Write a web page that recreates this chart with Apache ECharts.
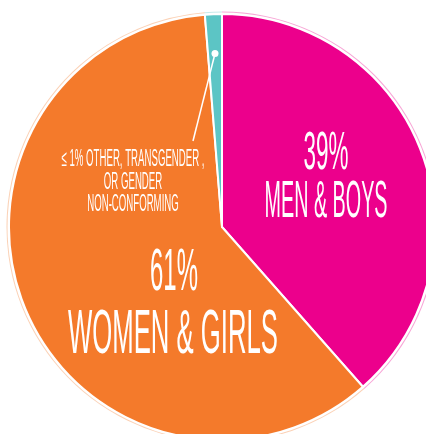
<!DOCTYPE html>
<html>
<head>
<meta charset="utf-8">
<script src="https://cdn.jsdelivr.net/npm/echarts@6/dist/echarts.min.js"></script>
<style>
  html, body { margin: 0; padding: 0; background: #fff; }
  #chart { width: 426px; height: 434px; }
</style>
</head>
<body>
<div id="chart"></div>
<script>
const categories = ['MEN & BOYS', 'WOMEN & GIRLS', 'OTHER, TRANSGENDER, OR GENDER NON-CONFORMING']
const values = [39, 61, 1.3]
const percentLabels = ['39%', '61%', '≤ 1%']
const sliceColors = ['#EC008C', '#F47A2B', '#5CC5C5']
const smallLabelLines = ['≤ 1% OTHER, TRANSGENDER ,', 'OR GENDER', 'NON-CONFORMING']

const chart = echarts.init(document.getElementById('chart'))

const CX = 222, CY = 227, R = 213
const FONT = '"Liberation Sans", Arial, sans-serif'

// squeeze regular text into the condensed look of the original
const measureCtx = document.createElement('canvas').getContext('2d')
function condensed(text, size, x, y, targetWidth) {
  const font = `${size}px ${FONT}`
  measureCtx.font = font
  const w = measureCtx.measureText(text).width
  return {
    type: 'text', x, y, z: 100,
    scaleX: targetWidth / w,
    silent: true,
    style: {
      text, font, fill: '#fff',
      textAlign: 'center', align: 'center',
      textVerticalAlign: 'middle', verticalAlign: 'middle'
    }
  }
}

// dot sits in the middle of the small slice
const total = values.reduce((a, b) => a + b, 0)
const midAngle = 2 * Math.PI * (1 - values[2] / (2 * total))
const dotX = CX + R * 0.815 * Math.sin(midAngle)
const dotY = CY - R * 0.815 * Math.cos(midAngle)

measureCtx.font = `23px ${FONT}`
const smallScale = 143 / measureCtx.measureText(smallLabelLines[0]).width

const graphic = [
  condensed(percentLabels[0], 53, 326, 154, 45),
  condensed(categories[0], 52, 326, 203, 123),
  condensed(percentLabels[1], 60, 174, 273, 48),
  condensed(categories[1], 63, 173, 336, 210),
  {
    type: 'polyline', silent: true, z: 100,
    shape: { points: [[dotX, dotY], [193, 141]] },
    style: { stroke: '#fff', lineWidth: 1.5, fill: null }
  },
  { type: 'circle', silent: true, z: 100, shape: { cx: dotX, cy: dotY, r: 3.5 }, style: { fill: '#fff' } }
]
smallLabelLines.forEach((t, i) => {
  const el = condensed(t, 23, 133, 160 + i * 22.5, 1)
  el.scaleX = smallScale
  graphic.push(el)
})

const pieData = (opacity) => categories.map((name, i) => ({
  name, value: values[i], itemStyle: { color: sliceColors[i], opacity }
}))

chart.setOption({
  backgroundColor: '#fff',
  animation: false,
  graphic,
  series: [{
    type: 'pie',
    center: [CX, CY],
    radius: [0, R],
    startAngle: 90,
    clockwise: true,
    silent: true,
    label: { show: false },
    labelLine: { show: false },
    itemStyle: { borderColor: '#fff', borderWidth: 2 },
    data: pieData(1)
  }, {
    // faint outer rim
    type: 'pie',
    center: [CX, CY],
    radius: [R + 1.5, R + 2.5],
    startAngle: 90,
    silent: true,
    label: { show: false },
    labelLine: { show: false },
    data: pieData(0.35)
  }]
})
</script>
</body>
</html>
